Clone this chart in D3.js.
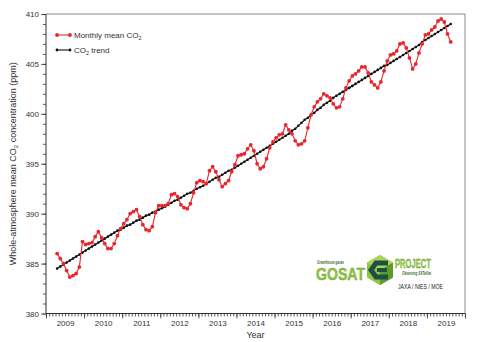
<!DOCTYPE html>
<html>
<head>
<meta charset="utf-8">
<script src="https://cdn.jsdelivr.net/npm/d3@7"></script>
<style>
  body { margin: 0; background: #fff; }
  svg { display: block; }
  text { font-family: "Liberation Sans", Arial, sans-serif; }
</style>
</head>
<body>
<script>
// First monthly value is April 2009; one value per month after that.
const startYear = 2009;
const startMonth = 4;

// Whole-atmosphere monthly mean CO2 (ppm), Apr 2009 – Aug 2019
const monthlyMean = [
  386.0, 385.5, 385.0, 384.3, 383.65, 383.8, 384.0, 384.65, 387.2,
  386.9, 387.0, 387.1, 387.7, 388.2, 387.6, 387.0, 386.5, 386.5, 387.0, 387.8, 388.5,
  389.0, 389.4, 390.0, 390.2, 390.4, 389.7, 388.9, 388.4, 388.3, 388.7, 390.1, 390.8,
  390.8, 390.8, 391.0, 391.9, 392.0, 391.7, 390.9, 390.6, 390.5, 391.0, 392.1, 393.1,
  393.3, 393.2, 393.0, 394.3, 394.7, 394.2, 393.4, 392.7, 393.0, 393.3, 394.2, 394.9,
  395.8, 395.9, 396.0, 396.5, 396.9, 396.3, 395.0, 394.5, 394.7, 395.5, 396.6, 397.2,
  397.6, 397.9, 398.0, 398.9, 398.4, 398.0, 397.3, 396.9, 397.0, 397.3, 398.6, 399.9,
  400.7, 401.2, 401.5, 402.0, 401.8, 401.6, 401.0, 400.6, 400.7, 401.5, 402.6, 403.3,
  403.8, 404.0, 404.3, 404.7, 404.7, 404.1, 403.2, 402.9, 402.6, 403.2, 404.3, 405.3,
  405.9, 406.0, 406.3, 407.0, 407.1, 406.6, 405.6, 404.5, 405.0, 406.1, 407.0, 407.9,
  408.0, 408.4, 408.7, 409.3, 409.5, 409.2, 408.0, 407.2
];

// Deseasonalised CO2 trend (ppm), same months
const trend = [
  384.5, 384.7, 384.9, 385.1, 385.3, 385.5, 385.7, 385.9, 386.1,
  386.3, 386.5, 386.7, 386.9, 387.1, 387.3, 387.5, 387.7, 387.9, 388.1, 388.3, 388.4,
  388.6, 388.8, 388.9, 389.1, 389.3, 389.4, 389.6, 389.8, 389.9, 390.1, 390.2, 390.4,
  390.55, 390.7, 390.9, 391.1, 391.3, 391.4, 391.6, 391.8, 392.0, 392.1, 392.3, 392.5,
  392.65, 392.8, 393.0, 393.2, 393.4, 393.6, 393.7, 393.9, 394.1, 394.3, 394.4, 394.6,
  394.8, 395.0, 395.2, 395.4, 395.6, 395.8, 396.0, 396.2, 396.4, 396.6, 396.8, 397.0,
  397.2, 397.4, 397.6, 397.8, 398.0, 398.3, 398.5, 398.8, 399.1, 399.4, 399.6, 399.9,
  400.1, 400.4, 400.6, 400.9, 401.1, 401.3, 401.6, 401.8, 402.0, 402.2, 402.4, 402.6,
  402.8, 403.0, 403.2, 403.4, 403.6, 403.8, 404.0, 404.2, 404.4, 404.6, 404.8, 404.9,
  405.1, 405.3, 405.5, 405.7, 405.9, 406.1, 406.3, 406.5, 406.7, 406.9, 407.2, 407.4,
  407.6, 407.8, 408.0, 408.2, 408.4, 408.6, 408.8, 409.0
];

const yearLabels = [2009, 2010, 2011, 2012, 2013, 2014, 2015, 2016, 2017, 2018, 2019];
const yTicks = [380, 385, 390, 395, 400, 405, 410];

const W = 481, H = 342;
const red = "#e8262d";
const ink = "#333";

const svg = d3.select("body").append("svg")
  .attr("width", W).attr("height", H);

const x = d3.scaleLinear().domain([2009, 2020]).range([46, 465]);
const y = d3.scaleLinear().domain([380, 410]).range([313.5, 14]);

// mid-month decimal year of the i-th value
const t = i => startYear + (startMonth - 1 + i + 0.5) / 12;

// ---- axes ----
function styleAxis(g) {
  g.select(".domain").remove();
  g.selectAll(".tick line").attr("stroke", ink).attr("stroke-width", 0.8);
  g.selectAll(".tick text").attr("fill", ink).attr("font-size", 8)
    .attr("font-family", "'Liberation Sans', Arial, sans-serif");
}

const xb = 313.5, xl = 46;

svg.append("g").attr("transform", `translate(0,${xb})`)
  .call(d3.axisBottom(x).tickValues(d3.range(0, 133).map(i => 2009 + i / 12))
    .tickSize(3).tickFormat(""))
  .call(styleAxis);
svg.append("g").attr("transform", `translate(0,${xb})`)
  .call(d3.axisBottom(x).tickValues(d3.range(2009, 2021)).tickSize(5).tickFormat(""))
  .call(styleAxis);
svg.append("g").attr("transform", `translate(0,${xb})`)
  .call(d3.axisBottom(x).tickValues(yearLabels.map(d => d + 0.5))
    .tickSize(0).tickPadding(7).tickFormat(d => String(Math.floor(d))))
  .call(styleAxis);

svg.append("g").attr("transform", `translate(${xl},0)`)
  .call(d3.axisLeft(y).tickValues(d3.range(380, 411)).tickSize(3).tickFormat(""))
  .call(styleAxis);
svg.append("g").attr("transform", `translate(${xl},0)`)
  .call(d3.axisLeft(y).tickValues(yTicks).tickSize(5).tickPadding(2).tickFormat(d3.format("d")))
  .call(styleAxis);

// frame: top/right lighter, left/bottom dark
svg.append("line").attr("x1", x(2009)).attr("x2", x(2020)).attr("y1", y(410)).attr("y2", y(410))
  .attr("stroke", "#8a8a8a").attr("stroke-width", 1);
svg.append("line").attr("x1", x(2020)).attr("x2", x(2020)).attr("y1", y(410)).attr("y2", y(380))
  .attr("stroke", "#8a8a8a").attr("stroke-width", 1);
svg.append("line").attr("x1", x(2009)).attr("x2", x(2009)).attr("y1", y(410)).attr("y2", y(380))
  .attr("stroke", ink).attr("stroke-width", 1);
svg.append("line").attr("x1", x(2009)).attr("x2", x(2020)).attr("y1", y(380)).attr("y2", y(380))
  .attr("stroke", ink).attr("stroke-width", 1);

// axis titles
svg.append("text").attr("x", (x(2009) + x(2020)) / 2).attr("y", 338)
  .attr("text-anchor", "middle").attr("font-size", 9).attr("fill", ink).text("Year");

const yt = svg.append("text")
  .attr("transform", `translate(16,${(y(380) + y(410)) / 2}) rotate(-90)`)
  .attr("text-anchor", "middle").attr("font-size", 9).attr("fill", ink);
yt.append("tspan").text("Whole-atmosphere mean CO");
yt.append("tspan").attr("font-size", 6).attr("dy", 2).text("2");
yt.append("tspan").attr("dy", -2).text(" concentration (ppm)");

// ---- series ----
const mm = monthlyMean.map((v, i) => [t(i), v]);
const tr = trend.map((v, i) => [t(i), v]);
const line = d3.line().x(d => x(d[0])).y(d => y(d[1]));

svg.append("path").datum(tr).attr("d", line)
  .attr("fill", "none").attr("stroke", "#111").attr("stroke-width", 1.2);
svg.append("g").selectAll("circle").data(tr).join("circle")
  .attr("cx", d => x(d[0])).attr("cy", d => y(d[1])).attr("r", 1.3).attr("fill", "#111");

svg.append("path").datum(mm).attr("d", line)
  .attr("fill", "none").attr("stroke", red).attr("stroke-width", 1.1);
svg.append("g").selectAll("circle").data(mm).join("circle")
  .attr("cx", d => x(d[0])).attr("cy", d => y(d[1])).attr("r", 1.9).attr("fill", red);

// ---- legend ----
const legend = [
  { color: red, r: 1.9, label: ["Monthly mean CO", "2", ""], yy: 35 },
  { color: "#111", r: 1.4, label: ["CO", "2", " trend"], yy: 50 }
];
legend.forEach(l => {
  const g = svg.append("g");
  g.append("line").attr("x1", 57).attr("x2", 70).attr("y1", l.yy).attr("y2", l.yy)
    .attr("stroke", l.color).attr("stroke-width", 1.1);
  g.append("circle").attr("cx", 57).attr("cy", l.yy).attr("r", l.r).attr("fill", l.color);
  g.append("circle").attr("cx", 70).attr("cy", l.yy).attr("r", l.r).attr("fill", l.color);
  const tx = g.append("text").attr("x", 74).attr("y", l.yy + 3).attr("font-size", 8).attr("fill", ink);
  tx.append("tspan").text(l.label[0]);
  tx.append("tspan").attr("font-size", 5.5).attr("dy", 1.5).text(l.label[1]);
  if (l.label[2]) tx.append("tspan").attr("dy", -1.5).text(l.label[2]);
});

// ---- GOSAT project mark ----
const logo = svg.append("g");
const lime = "#8dc63f", dark = "#3d6e2a", teal = "#1e4f44";

logo.append("text").attr("x", 317).attr("y", 264).attr("font-size", 5)
  .attr("font-style", "italic").attr("font-weight", "bold").attr("fill", dark)
  .attr("textLength", 27).attr("lengthAdjust", "spacingAndGlyphs").text("Greenhouse gases");
logo.append("text").attr("x", 316).attr("y", 280).attr("font-size", 17)
  .attr("font-family", "'Liberation Sans Narrow', 'Liberation Sans', Arial, sans-serif")
  .attr("font-weight", "bold").attr("fill", lime).attr("stroke", "#6b9d2f").attr("stroke-width", 0.4)
  .attr("textLength", 49).attr("lengthAdjust", "spacingAndGlyphs").text("GOSAT");

// hexagon emblem
const hx = 380, hy = 270, hr = 15;
const hex = d3.range(6).map(k => {
  const a = Math.PI / 180 * (60 * k - 90);
  return [hx + hr * Math.cos(a), hy + hr * Math.sin(a)];
});
logo.append("polygon").attr("points", hex.map(p => p.join(",")).join(" ")).attr("fill", lime);
logo.append("polygon")
  .attr("points", [[hx, hy], hex[1], hex[2], hex[3]].map(p => p.join(",")).join(" "))
  .attr("fill", "#5e9a2c");
logo.append("polygon")
  .attr("points", [[hx, hy], hex[5], hex[0], hex[1]].map(p => p.join(",")).join(" "))
  .attr("fill", "#a9d65a");
logo.append("path")
  .attr("d", `M${hx + 8},${hy - 7} L${hx - 4},${hy - 7} L${hx - 9},${hy} L${hx - 4},${hy + 7} L${hx + 8},${hy + 7}`)
  .attr("fill", "none").attr("stroke", teal).attr("stroke-width", 5).attr("stroke-linejoin", "miter");
logo.append("path")
  .attr("d", `M${hx - 3},${hy - 2} L${hx + 7},${hy - 2} L${hx + 7},${hy + 2} L${hx - 3},${hy + 2} Z`)
  .attr("fill", teal);

logo.append("text").attr("x", 395).attr("y", 268).attr("font-size", 13)
  .attr("font-family", "'Liberation Sans Narrow', 'Liberation Sans', Arial, sans-serif")
  .attr("font-weight", "bold").attr("fill", lime).attr("stroke", "#6b9d2f").attr("stroke-width", 0.3)
  .attr("textLength", 36).attr("lengthAdjust", "spacingAndGlyphs").text("PROJECT");
logo.append("text").attr("x", 402).attr("y", 275).attr("font-size", 4.8)
  .attr("font-style", "italic").attr("font-weight", "bold").attr("fill", dark)
  .attr("textLength", 29).attr("lengthAdjust", "spacingAndGlyphs").text("Observing SATellite");
logo.append("text").attr("x", 398).attr("y", 289).attr("font-size", 7).attr("fill", "#222")
  .attr("textLength", 45).attr("lengthAdjust", "spacingAndGlyphs").text("JAXA / NIES / MOE");
</script>
</body>
</html>
